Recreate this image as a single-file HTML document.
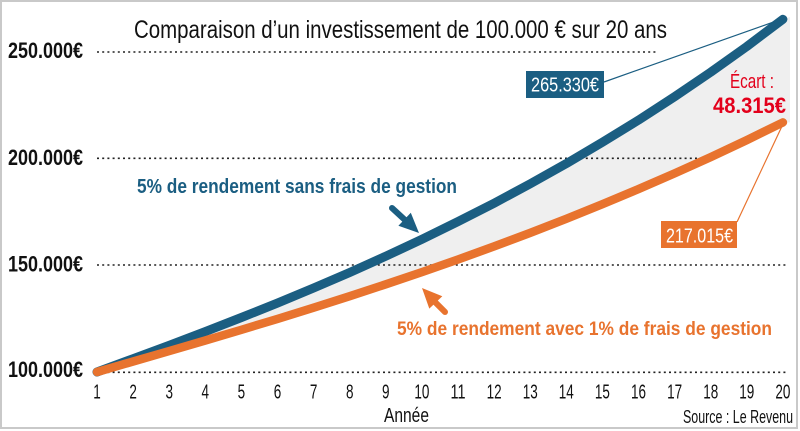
<!DOCTYPE html>
<html>
<head>
<meta charset="utf-8">
<style>
html,body{margin:0;padding:0;background:#fff;}
svg{display:block;}
text{font-family:"Liberation Sans Narrow","Liberation Sans",sans-serif;}
</style>
</head>
<body>
<svg width="800" height="431" viewBox="0 0 800 431" xmlns="http://www.w3.org/2000/svg">
<rect x="0" y="0" width="800" height="431" fill="#fff"/>
<rect x="1" y="1" width="796" height="427" fill="none" stroke="#c9c9c9" stroke-width="2"/>

<!-- fill between curves -->
<polygon fill="#efefef" points="97,372 133.1,358.7 169.2,345.3 205.3,331.6 241.4,317.5 277.5,303.1 313.6,288.0 349.7,272.5 385.8,256.2 421.9,239.3 458,221.6 494.1,203.2 530.2,183.8 566.3,163.6 602.4,142.3 638.5,120.1 674.6,96.7 710.7,72.2 746.8,46.5 782.9,19.3 790,17 790,122.4 782.9,122.4 746.8,140.1 710.7,157.1 674.6,173.4 638.5,189.1 602.4,204.2 566.3,218.8 530.2,232.9 494.1,246.4 458,259.5 421.9,272.1 385.8,284.3 349.7,296.2 313.6,307.7 277.5,318.9 241.4,329.8 205.3,340.5 169.2,351.1 133.1,361.5"/>

<!-- gridlines -->
<g stroke="#222" stroke-width="1.6" stroke-dasharray="2 3.2">
<line x1="97" y1="52" x2="658" y2="52"/>
<line x1="97" y1="158.3" x2="703" y2="158.3"/>
<line x1="97" y1="265" x2="787" y2="265"/>
<line x1="97" y1="372.3" x2="787" y2="372.3"/>
</g>

<!-- series -->
<polyline fill="none" stroke="#1b5e82" stroke-width="9" stroke-linecap="round" stroke-linejoin="round" points="97,372 133.1,358.7 169.2,345.3 205.3,331.6 241.4,317.5 277.5,303.1 313.6,288.0 349.7,272.5 385.8,256.2 421.9,239.3 458,221.6 494.1,203.2 530.2,183.8 566.3,163.6 602.4,142.3 638.5,120.1 674.6,96.7 710.7,72.2 746.8,46.5 782.9,19.3"/>
<polyline fill="none" stroke="#e8732e" stroke-width="8.5" stroke-linecap="round" stroke-linejoin="round" points="97,372 133.1,361.5 169.2,351.1 205.3,340.5 241.4,329.8 277.5,318.9 313.6,307.7 349.7,296.2 385.8,284.3 421.9,272.1 458,259.5 494.1,246.4 530.2,232.9 566.3,218.8 602.4,204.2 638.5,189.1 674.6,173.4 710.7,157.1 746.8,140.1 782.9,122.4"/>

<!-- leader lines -->
<line x1="604" y1="82" x2="782" y2="19" stroke="#1b5e82" stroke-width="1.2"/>
<line x1="737" y1="222" x2="783" y2="124" stroke="#e8732e" stroke-width="1.2"/>

<!-- value boxes -->
<rect x="526" y="71" width="78" height="27" fill="#1b5e82"/>
<text x="531" y="91.5" font-size="20" fill="#fff" textLength="68" lengthAdjust="spacingAndGlyphs">265.330€</text>
<rect x="661" y="221" width="76" height="27" fill="#e8732e"/>
<text x="666" y="242.5" font-size="20" fill="#fff" textLength="67" lengthAdjust="spacingAndGlyphs">217.015€</text>

<!-- ecart -->
<text x="730" y="88" font-size="20" fill="#e3001b" textLength="44" lengthAdjust="spacingAndGlyphs">Écart :</text>
<text x="713" y="113" font-size="22" font-weight="bold" fill="#e3001b" textLength="73" lengthAdjust="spacingAndGlyphs">48.315€</text>

<!-- arrows -->
<line x1="392" y1="208" x2="405" y2="220" stroke="#1b5e82" stroke-width="6" stroke-linecap="round"/>
<polygon fill="#1b5e82" points="419,233 398.4,225.7 410.8,212.7"/>
<line x1="445" y1="312" x2="435" y2="302" stroke="#e8732e" stroke-width="6" stroke-linecap="round"/>
<polygon fill="#e8732e" points="422,288 429.3,308.6 442.3,296.2"/>

<!-- series labels -->
<text x="137" y="193" font-size="20" font-weight="bold" fill="#1b5e82" textLength="320" lengthAdjust="spacingAndGlyphs">5% de rendement sans frais de gestion</text>
<text x="397" y="335" font-size="19.5" font-weight="bold" fill="#e8732e" textLength="375" lengthAdjust="spacingAndGlyphs">5% de rendement avec 1% de frais de gestion</text>

<!-- title -->
<text x="134" y="38" font-size="25" fill="#111" textLength="533" lengthAdjust="spacingAndGlyphs">Comparaison d’un investissement de 100.000 € sur 20 ans</text>

<!-- y labels -->
<g font-size="22" font-weight="bold" fill="#111">
<text x="8" y="58" textLength="75" lengthAdjust="spacingAndGlyphs">250.000€</text>
<text x="8" y="165" textLength="75" lengthAdjust="spacingAndGlyphs">200.000€</text>
<text x="8" y="271.5" textLength="75" lengthAdjust="spacingAndGlyphs">150.000€</text>
<text x="8" y="377" textLength="75" lengthAdjust="spacingAndGlyphs">100.000€</text>
</g>

<!-- x tick labels -->
<g font-size="20" fill="#111" text-anchor="middle">
<text x="97" y="398.5" textLength="7.5" lengthAdjust="spacingAndGlyphs">1</text>
<text x="133.1" y="398.5" textLength="7.5" lengthAdjust="spacingAndGlyphs">2</text>
<text x="169.2" y="398.5" textLength="7.5" lengthAdjust="spacingAndGlyphs">3</text>
<text x="205.3" y="398.5" textLength="7.5" lengthAdjust="spacingAndGlyphs">4</text>
<text x="241.4" y="398.5" textLength="7.5" lengthAdjust="spacingAndGlyphs">5</text>
<text x="277.5" y="398.5" textLength="7.5" lengthAdjust="spacingAndGlyphs">6</text>
<text x="313.6" y="398.5" textLength="7.5" lengthAdjust="spacingAndGlyphs">7</text>
<text x="349.7" y="398.5" textLength="7.5" lengthAdjust="spacingAndGlyphs">8</text>
<text x="385.8" y="398.5" textLength="7.5" lengthAdjust="spacingAndGlyphs">9</text>
<text x="421.9" y="398.5" textLength="15" lengthAdjust="spacingAndGlyphs">10</text>
<text x="458" y="398.5" textLength="15" lengthAdjust="spacingAndGlyphs">11</text>
<text x="494.1" y="398.5" textLength="15" lengthAdjust="spacingAndGlyphs">12</text>
<text x="530.2" y="398.5" textLength="15" lengthAdjust="spacingAndGlyphs">13</text>
<text x="566.3" y="398.5" textLength="15" lengthAdjust="spacingAndGlyphs">14</text>
<text x="602.4" y="398.5" textLength="15" lengthAdjust="spacingAndGlyphs">15</text>
<text x="638.5" y="398.5" textLength="15" lengthAdjust="spacingAndGlyphs">16</text>
<text x="674.6" y="398.5" textLength="15" lengthAdjust="spacingAndGlyphs">17</text>
<text x="710.7" y="398.5" textLength="15" lengthAdjust="spacingAndGlyphs">18</text>
<text x="746.8" y="398.5" textLength="15" lengthAdjust="spacingAndGlyphs">19</text>
<text x="782.9" y="398.5" textLength="15" lengthAdjust="spacingAndGlyphs">20</text>
</g>

<text x="384" y="422" font-size="20" fill="#111" textLength="45" lengthAdjust="spacingAndGlyphs">Année</text>
<text x="683" y="423" font-size="18.5" fill="#111" textLength="110" lengthAdjust="spacingAndGlyphs">Source : Le Revenu</text>
</svg>
</body>
</html>
